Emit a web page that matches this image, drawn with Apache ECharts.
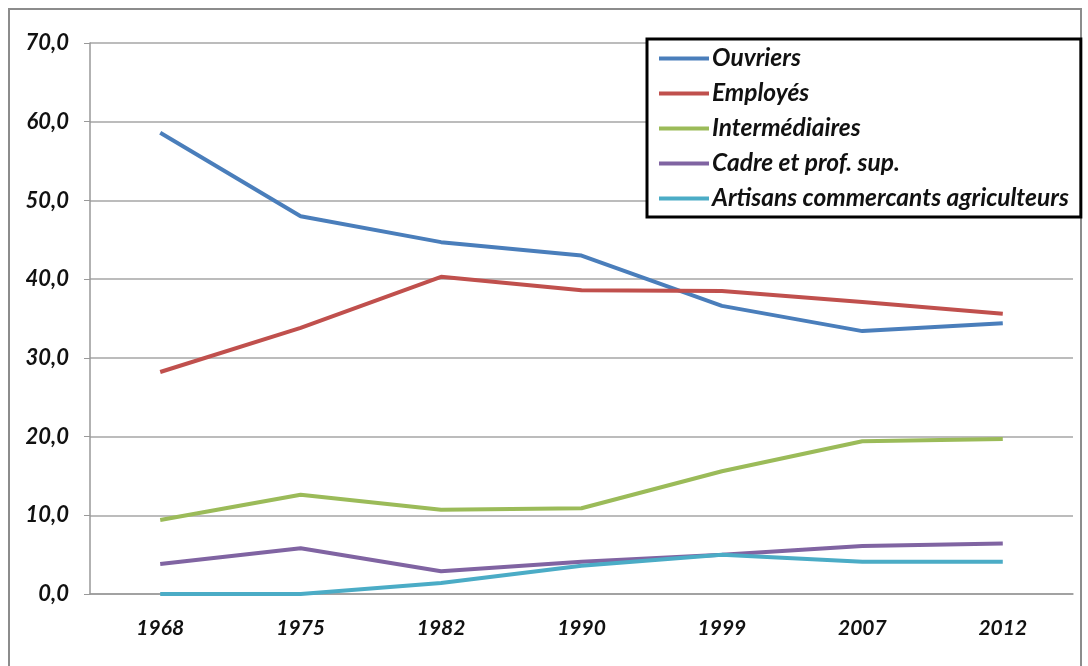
<!DOCTYPE html>
<html>
<head>
<meta charset="utf-8">
<script src="https://cdn.jsdelivr.net/npm/echarts@6/dist/echarts.min.js"></script>
<style>
  html, body { margin: 0; padding: 0; background: #fff; }
  #root { width: 1088px; height: 666px; }
</style>
</head>
<body>
<div id="root"></div>
<script>
const years = ['1968', '1975', '1982', '1990', '1999', '2007', '2012']
const names = ['Ouvriers', 'Employés', 'Intermédiaires', 'Cadre et prof. sup.', 'Artisans commercants agriculteurs']
const ouvriers = [58.6, 48.0, 44.7, 43.0, 36.6, 33.4, 34.4]
const employes = [28.2, 33.8, 40.3, 38.6, 38.5, 37.1, 35.6]
const intermediaires = [9.4, 12.6, 10.7, 10.9, 15.6, 19.4, 19.7]
const cadres = [3.8, 5.8, 2.9, 4.1, 5.0, 6.1, 6.4]
const artisans = [0.0, 0.0, 1.4, 3.6, 5.0, 4.1, 4.1]
const colors = ['#4a7ebb', '#c0504d', '#9bbb59', '#8064a2', '#4bacc6']

const chart = echarts.init(document.getElementById('root'))
const font = 'Lato'
const allValues = [ouvriers, employes, intermediaires, cadres, artisans]

chart.setOption({
  animation: false,
  color: colors,
  graphic: [{
    type: 'rect',
    shape: { x: 9, y: 9, width: 1072, height: 700 },
    style: { fill: 'none', stroke: '#8c8c8c', lineWidth: 2 }
  }],
  grid: { left: 90, right: 15, top: 43, bottom: 72 },
  legend: {
    orient: 'vertical',
    left: 647,
    top: 39,
    backgroundColor: '#fff',
    borderColor: '#000',
    borderWidth: 3,
    padding: [7, 12, 6, 12],
    itemWidth: 50,
    itemHeight: 4,
    itemGap: 10,
    icon: 'rect',
    textStyle: { fontFamily: font, fontStyle: 'italic', fontWeight: 'bold', fontSize: 24.5, color: '#111', padding: [0, 0, 0, -2] },
    data: names
  },
  xAxis: {
    type: 'category',
    data: years,
    boundaryGap: true,
    axisLine: { lineStyle: { color: '#999', width: 1.5 } },
    axisTick: { length: 10, lineStyle: { color: '#999', width: 1.5 } },
    axisLabel: { margin: 24, fontFamily: font, fontStyle: 'italic', fontWeight: 'bold', fontSize: 21, color: '#111' }
  },
  yAxis: {
    type: 'value',
    min: 0,
    max: 70,
    interval: 10,
    axisLine: { show: true, lineStyle: { color: '#999', width: 1.5 } },
    axisTick: { show: true, length: 6, lineStyle: { color: '#999' } },
    splitLine: { lineStyle: { color: '#a6a6a6', width: 1.5 } },
    axisLabel: {
      margin: 21,
      fontFamily: font, fontStyle: 'italic', fontWeight: 'bold', fontSize: 22, color: '#111',
      formatter: v => v.toFixed(1).replace('.', ',')
    }
  },
  series: names.map((n, i) => ({
    name: n,
    type: 'line',
    data: allValues[i],
    symbol: 'none',
    lineStyle: { width: 4, color: colors[i] }
  }))
})
</script>
</body>
</html>
